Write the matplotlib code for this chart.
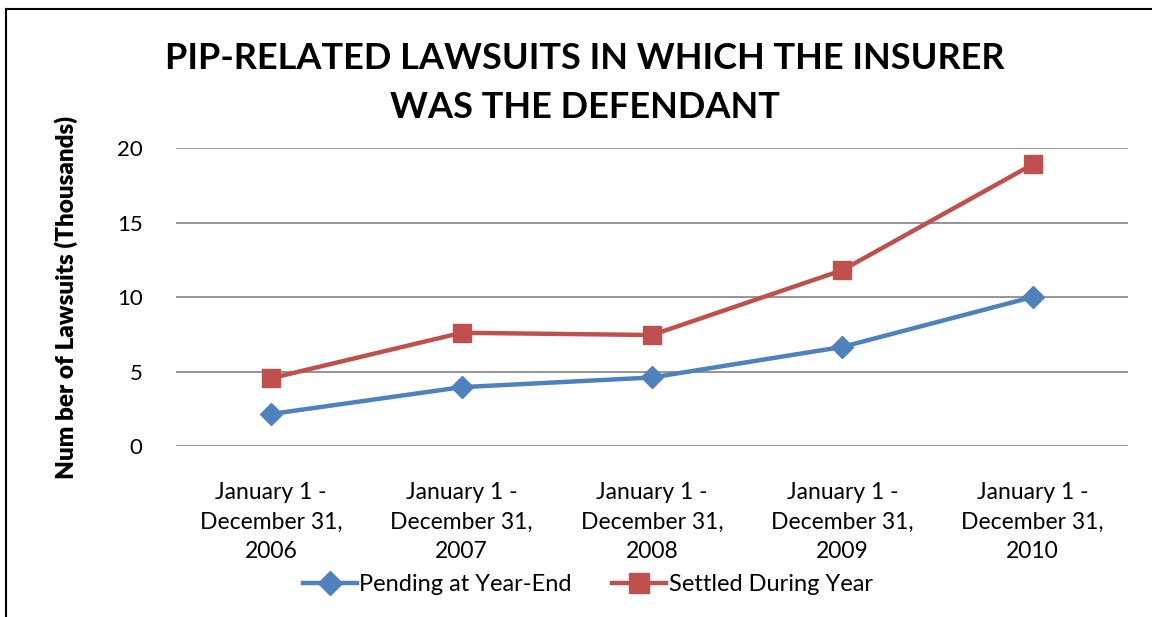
import matplotlib
matplotlib.use('Agg')
import matplotlib.pyplot as plt
from matplotlib.lines import Line2D

# ---------------------------------------------------------------------------
# Data (thousands of lawsuits)
# ---------------------------------------------------------------------------
periods = ['January 1 -\nDecember 31,\n2006',
           'January 1 -\nDecember 31,\n2007',
           'January 1 -\nDecember 31,\n2008',
           'January 1 -\nDecember 31,\n2009',
           'January 1 -\nDecember 31,\n2010']
pending = [2.15, 3.95, 4.6, 6.65, 10.0]
settled = [4.55, 7.6, 7.45, 11.8, 18.9]
yticks = [0, 5, 10, 15, 20]

BLUE = '#4F81BD'
RED = '#C0504D'
plt.rcParams['font.family'] = ['Lato', 'DejaVu Sans']

fig = plt.figure(figsize=(11.52, 6.17), dpi=100)
ax = fig.add_axes([0.1528, 0.2771, 0.979 - 0.1528, 0.7601 - 0.2771])

x = list(range(len(periods)))
ax.plot(x, pending, color=BLUE, lw=3.2, marker='D', ms=11, label='Pending at Year-End')
ax.plot(x, settled, color=RED, lw=3.2, marker='s', ms=13, label='Settled During Year')

ax.set_xlim(-0.5, len(periods) - 0.5)
ax.set_ylim(0, 20)
ax.set_yticks(yticks)
ax.set_xticks(x)
ax.set_xticklabels(periods, fontsize=16.5, linespacing=1.5)
ax.tick_params(axis='y', labelsize=16, length=0, pad=24)
ax.tick_params(axis='x', length=0, pad=26)
ax.grid(axis='y', color='#8c8c8c', lw=1.3)
ax.set_axisbelow(True)
for s in ax.spines.values():
    s.set_visible(False)

ax.set_ylabel('Num ber of Lawsuits (Thousands)', fontsize=17.5, fontweight='heavy', labelpad=28)

fig.text(0.508, 0.8655, 'PIP-RELATED LAWSUITS IN WHICH THE INSURER\nWAS THE DEFENDANT',
         ha='center', va='center', fontsize=26, fontweight='bold', linespacing=1.6)

handles = [Line2D([], [], color=BLUE, lw=3.2, marker='D', ms=12),
           Line2D([], [], color=RED, lw=3.2, marker='s', ms=14)]
fig.legend(handles, ['Pending at Year-End', 'Settled During Year'],
           loc='center', bbox_to_anchor=(0.51, 0.053), ncol=2, frameon=False,
           fontsize=17, handlelength=2.3, handletextpad=0.1, columnspacing=1.7)

# chart border (top and left edges visible)
fig.add_artist(Line2D([0.0055, 0.0055], [0, 0.986], color='black', lw=1.5,
                      transform=fig.transFigure))
fig.add_artist(Line2D([0.0055, 1.0], [0.986, 0.986], color='black', lw=1.5,
                      transform=fig.transFigure))

fig.savefig('out.png', dpi=100)
